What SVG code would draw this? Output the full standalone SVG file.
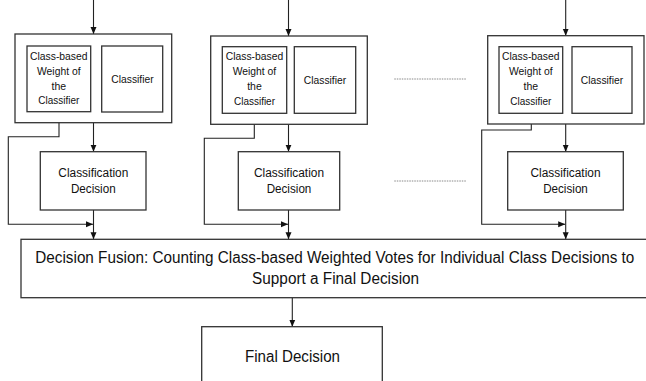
<svg xmlns="http://www.w3.org/2000/svg" width="646" height="381" viewBox="0 0 646 381">
<defs>
<marker id="ah" markerUnits="userSpaceOnUse" markerWidth="8" markerHeight="8" viewBox="0 0 8 8" refX="7" refY="4" orient="auto">
<path d="M0,1 L7,4 L0,7 Z" fill="#111"/>
</marker>
</defs>
<style>
rect{fill:#fff;stroke:#333;stroke-width:1.3}
.c{fill:none;stroke:#222;stroke-width:1.1}
.a{marker-end:url(#ah)}
.dot{fill:none;stroke:#888;stroke-width:1;stroke-dasharray:1.5 1}
text{font-family:"Liberation Sans",Arial,sans-serif;fill:#111;text-anchor:middle}
.s{font-size:10.5px}
.m{font-size:12.5px}
.l{font-size:16px}
</style>
<rect x="0" y="0" width="646" height="381" style="fill:#fff;stroke:none"/>
<g id="connectors">
<path class="c a" d="M93.5,0 V34"/>
<path class="c a" d="M93.5,122.7 V151.7"/>
<path class="c a" d="M93.5,210 V239.3"/>
<path class="c a" d="M59,111.7 V136.7 H8.3 V224.3 H93"/>
<path class="c a" d="M288.5,0 V36"/>
<path class="c a" d="M288.5,124.3 V151.7"/>
<path class="c a" d="M288.5,210 V239.3"/>
<path class="c a" d="M254.3,113.3 V138.3 H204.3 V224.3 H288"/>
<path class="c a" d="M565.7,0 V35.7"/>
<path class="c a" d="M565.7,124 V151.7"/>
<path class="c a" d="M565.7,210 V239.3"/>
<path class="c a" d="M531.3,113.3 V130 H481.7 V224.3 H565.2"/>
<path class="c a" d="M292.3,297.7 V326.7"/>
<path class="dot" d="M394.3,79 H466.7"/>
<path class="dot" d="M394.3,181 H466.7"/>
</g>
<g id="classifier-unit-1">
<rect x="15" y="34" width="156.7" height="88.7"/>
<g id="weight-1">
<rect x="27" y="46" width="63.7" height="65.7"/>
<text class="s" x="58.8" y="59.5" textLength="57.5" lengthAdjust="spacingAndGlyphs">Class-based</text>
<text class="s" x="58.8" y="74.5" textLength="43.5" lengthAdjust="spacingAndGlyphs">Weight of</text>
<text class="s" x="58.8" y="89.5">the</text>
<text class="s" x="58.8" y="104" textLength="41" lengthAdjust="spacingAndGlyphs">Classifier</text>
</g>
<g id="classifier-1">
<rect x="101.7" y="46" width="61" height="66"/>
<text class="s" x="132.5" y="83.3" textLength="42.3" lengthAdjust="spacingAndGlyphs">Classifier</text>
</g>
</g>
<g id="decision-1">
<rect x="40.3" y="151.7" width="105.7" height="58.3"/>
<text class="m" x="93.3" y="176.7" textLength="70" lengthAdjust="spacingAndGlyphs">Classification</text>
<text class="m" x="93.3" y="193.3" textLength="44.7" lengthAdjust="spacingAndGlyphs">Decision</text>
</g>
<g id="classifier-unit-2">
<rect x="210.7" y="36" width="156.6" height="88.3"/>
<g id="weight-2">
<rect x="222.3" y="46.7" width="64.4" height="66.6"/>
<text class="s" x="254.5" y="60" textLength="57.5" lengthAdjust="spacingAndGlyphs">Class-based</text>
<text class="s" x="254.5" y="75" textLength="43.5" lengthAdjust="spacingAndGlyphs">Weight of</text>
<text class="s" x="254.5" y="90">the</text>
<text class="s" x="254.5" y="104.5" textLength="41" lengthAdjust="spacingAndGlyphs">Classifier</text>
</g>
<g id="classifier-2">
<rect x="294.3" y="46.7" width="61.4" height="66.6"/>
<text class="s" x="325" y="84" textLength="42.3" lengthAdjust="spacingAndGlyphs">Classifier</text>
</g>
</g>
<g id="decision-2">
<rect x="238.3" y="151.7" width="101.4" height="58.3"/>
<text class="m" x="289" y="176.7" textLength="70" lengthAdjust="spacingAndGlyphs">Classification</text>
<text class="m" x="289" y="193.3" textLength="44.7" lengthAdjust="spacingAndGlyphs">Decision</text>
</g>
<g id="classifier-unit-3">
<rect x="487.7" y="35.7" width="156.3" height="88.3"/>
<g id="weight-3">
<rect x="499" y="46.7" width="63.7" height="66.6"/>
<text class="s" x="530.8" y="60" textLength="57.5" lengthAdjust="spacingAndGlyphs">Class-based</text>
<text class="s" x="530.8" y="75" textLength="43.5" lengthAdjust="spacingAndGlyphs">Weight of</text>
<text class="s" x="530.8" y="90">the</text>
<text class="s" x="530.8" y="104.5" textLength="41" lengthAdjust="spacingAndGlyphs">Classifier</text>
</g>
<g id="classifier-3">
<rect x="572" y="46.7" width="60" height="66.6"/>
<text class="s" x="602" y="84" textLength="42.3" lengthAdjust="spacingAndGlyphs">Classifier</text>
</g>
</g>
<g id="decision-3">
<rect x="507.7" y="151.7" width="115.6" height="58.3"/>
<text class="m" x="565.5" y="176.7" textLength="70" lengthAdjust="spacingAndGlyphs">Classification</text>
<text class="m" x="565.5" y="193.3" textLength="44.7" lengthAdjust="spacingAndGlyphs">Decision</text>
</g>
<g id="decision-fusion">
<rect x="21" y="239.3" width="628" height="58.4"/>
<text class="l" x="334.8" y="263.3" textLength="599" lengthAdjust="spacingAndGlyphs">Decision Fusion: Counting Class-based Weighted Votes for Individual Class Decisions to</text>
<text class="l" x="335.6" y="284.3" textLength="167" lengthAdjust="spacingAndGlyphs">Support a Final Decision</text>
</g>
<g id="final-decision">
<rect x="201.7" y="326.7" width="180.6" height="62"/>
<text class="l" x="292.5" y="361.7" textLength="95" lengthAdjust="spacingAndGlyphs">Final Decision</text>
</g>
</svg>
